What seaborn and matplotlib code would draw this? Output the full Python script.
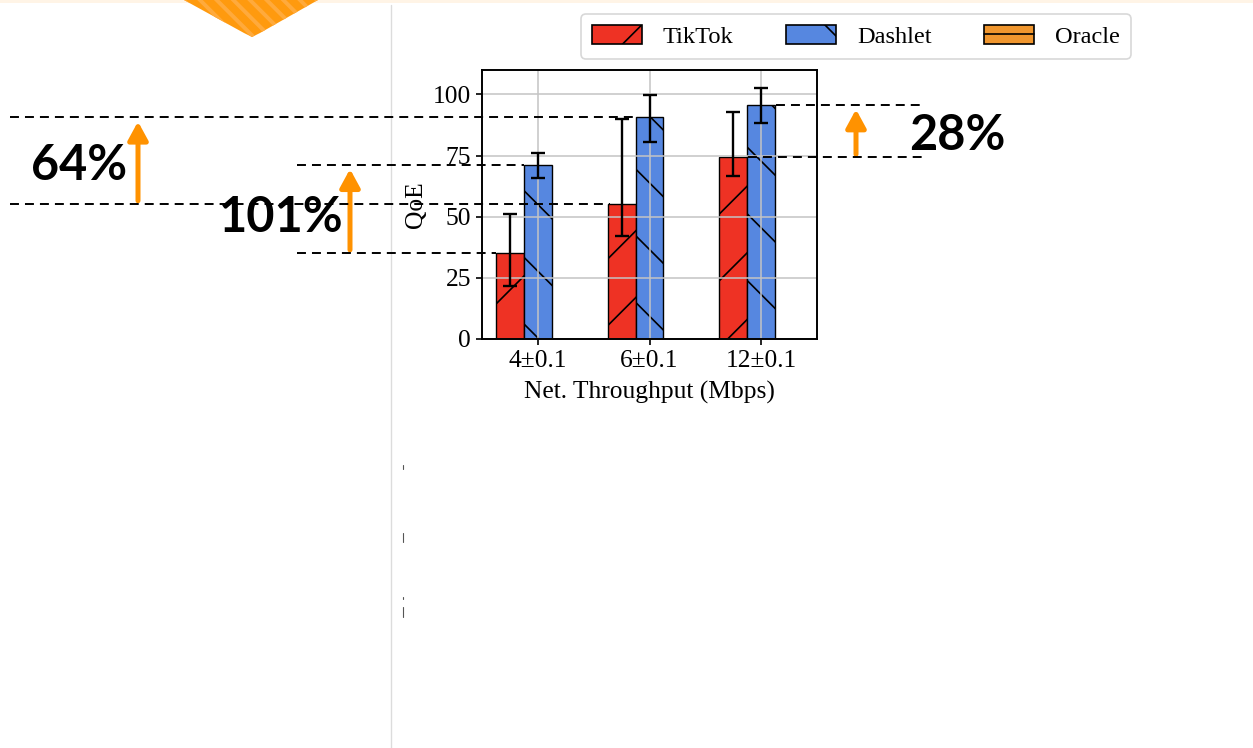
import numpy as np
import pandas as pd
import matplotlib
matplotlib.use("Agg")
import matplotlib.pyplot as plt
import matplotlib.transforms as mtransforms
from matplotlib.colors import to_rgb
from matplotlib.patches import Patch, Polygon, Rectangle
from matplotlib.lines import Line2D
from matplotlib.legend_handler import HandlerTuple
import seaborn as sns

# ---------------- data ----------------
groups = ["4±0.1", "6±0.1", "12±0.1"]
systems = ["TikTok", "Dashlet", "Oracle"]
tiktok_qoe = [35.3, 55.4, 74.4]
tiktok_err_low = [13.6, 13.1, 7.7]
tiktok_err_high = [15.8, 34.5, 18.6]
dashlet_qoe = [71.2, 90.6, 95.6]
dashlet_err_low = [5.4, 10.2, 7.3]
dashlet_err_high = [4.8, 9.3, 7.0]
gain_labels = ["101%", "64%", "28%"]
y_ticks = [0, 25, 50, 75, 100]
x_label = "Net. Throughput (Mbps)"
y_label = "QoE"

colors = {"TikTok": "#EE3224", "Dashlet": "#5687E0", "Oracle": "#F0962E"}
hatches = {"TikTok": "/", "Dashlet": "\\", "Oracle": ""}

# ---------------- figure ----------------
sns.set_style("white")
plt.rcParams["font.family"] = ["Liberation Serif", "DejaVu Serif"]
plt.rcParams["hatch.linewidth"] = 0.6

W, H = 1253, 748
DPI = 200
FS = 9.2
fig = plt.figure(figsize=(W / DPI, H / DPI), dpi=DPI)
fig.patch.set_facecolor("white")

def fx(px):
    return px / W

def fy(py):
    return 1 - py / H

# slide decorations
fig.add_artist(Rectangle((0, fy(3)), 1, 3 / H, transform=fig.transFigure,
                         facecolor="#FFF4E6", edgecolor="none", zorder=0))
chev = Polygon([(fx(184), fy(-2)), (fx(184), fy(0)), (fx(244), fy(33)), (fx(252), fy(37)),
                (fx(260), fy(33)), (fx(318), fy(0)), (fx(318), fy(-2))],
               closed=True, transform=fig.transFigure, facecolor="#FF9A0E",
               edgecolor="#FFAA3C", linewidth=0, hatch="\\\\\\\\", zorder=1)
if hasattr(chev, "set_hatch_linewidth"):
    chev.set_hatch_linewidth(1.4)
fig.add_artist(chev)
fig.add_artist(Line2D([fx(391), fx(391)], [0, fy(5)], transform=fig.transFigure,
                      color="#dcdcdc", lw=0.5, zorder=0))
for y0, y1 in [(465, 469), (533, 542), (597, 599), (607, 617)]:
    fig.add_artist(Line2D([fx(403), fx(403)], [fy(y0), fy(y1)], transform=fig.transFigure,
                          color="#555555", lw=0.4))

# ---------------- axes ----------------
ax = fig.add_axes([fx(482), fy(339), (817 - 482) / W, (339 - 70) / H])

df = pd.DataFrame({
    "group": groups * 2,
    "system": ["TikTok"] * 3 + ["Dashlet"] * 3,
    "qoe": tiktok_qoe + dashlet_qoe,
})

sns.barplot(data=df, x="group", y="qoe", hue="system", order=groups,
            hue_order=systems, palette=colors, width=0.75, errorbar=None,
            saturation=1, edgecolor="black", linewidth=0.5, ax=ax, legend=False)

errs = {"TikTok": (tiktok_err_low, tiktok_err_high),
        "Dashlet": (dashlet_err_low, dashlet_err_high)}
bars = {s: [] for s in systems}
for p in ax.patches:
    if not np.isfinite(p.get_height()) or p.get_height() <= 0:
        continue
    fc = np.array(p.get_facecolor()[:3])
    for s in systems:
        if np.allclose(fc, to_rgb(colors[s]), atol=0.02):
            bars[s].append(p)
            p.set_hatch(hatches[s])
for s, (lo, hi) in errs.items():
    ps = sorted(bars[s], key=lambda p: p.get_x())
    xs = [p.get_x() + p.get_width() / 2 for p in ps]
    ys = [p.get_height() for p in ps]
    ax.errorbar(xs, ys, yerr=[lo, hi], fmt="none", ecolor="black",
                elinewidth=0.85, capsize=2.4, capthick=0.85, zorder=3)

ax.set_xlim(-0.5, 2.5)
ax.set_ylim(0, 110)
ax.set_yticks(y_ticks)
ax.grid(True, color="#c4c4c4", lw=0.55)
ax.set_axisbelow("line")
for s in ax.spines.values():
    s.set_visible(True)
    s.set_color("black")
    s.set_linewidth(0.7)
ax.tick_params(axis="both", labelsize=FS, length=2, width=0.6, pad=2,
               bottom=True, left=True, colors="black")
ax.set_xlabel(x_label, fontsize=FS, labelpad=3, color="black")
ax.set_ylabel(y_label, fontsize=FS, labelpad=2, color="black")

# legend
LFS = 8.8
handles = [Patch(facecolor=colors["TikTok"], edgecolor="black", hatch=hatches["TikTok"], linewidth=0.6),
           Patch(facecolor=colors["Dashlet"], edgecolor="black", hatch=hatches["Dashlet"], linewidth=0.6),
           (Patch(facecolor=colors["Oracle"], edgecolor="black", linewidth=0.6),
            Line2D([], [], color="black", lw=0.6))]
leg = fig.legend(handles=handles, labels=systems, loc="upper left",
                 bbox_to_anchor=(fx(581), fy(14)),
                 handler_map={tuple: HandlerTuple(ndivide=1, pad=0)},
                 ncol=3, fontsize=LFS, frameon=True, fancybox=True, edgecolor="#d8d8d8",
                 framealpha=1, handlelength=2.05, handleheight=0.8, handletextpad=0.85,
                 columnspacing=2.15, borderpad=0.45, borderaxespad=0)
leg.get_frame().set_linewidth(0.6)
for t in leg.get_texts():
    t.set_color("black")

# ---------------- gain annotations ----------------
blend = mtransforms.blended_transform_factory(fig.transFigure, ax.transData)
annots = [
    # (group index, dashlet-line x range, tiktok-line x range, arrow x, text pos)
    (0, (297, 524), (297, 496), 350, (281, 218)),
    (1, (10, 635), (10, 610), 138, (79, 165)),
    (2, (776, 925), (748, 925), 856, (957, 136)),
]
for i, (dx0, dx1), (tx0, tx1), axp, (tpx, tpy) in annots:
    ax.plot([fx(dx0), fx(dx1)], [dashlet_qoe[i]] * 2, transform=blend, color="black",
            lw=0.7, ls=(0, (4.6, 3.1)), clip_on=False, zorder=4)
    ax.plot([fx(tx0), fx(tx1)], [tiktok_qoe[i]] * 2, transform=blend, color="black",
            lw=0.7, ls=(0, (4.6, 3.1)), clip_on=False, zorder=4)
    ax.annotate("", xy=(fx(axp), dashlet_qoe[i]), xycoords=blend,
                xytext=(fx(axp), tiktok_qoe[i]), textcoords=blend,
                annotation_clip=False,
                arrowprops=dict(arrowstyle="-|>,head_length=0.55,head_width=0.3",
                                color="#FF9200", lw=1.8, mutation_scale=10,
                                shrinkA=1, shrinkB=1.5))
    fig.text(fx(tpx), fy(tpy), gain_labels[i], ha="center", va="center",
             fontsize=17.5, fontweight="bold", family=["Lato", "DejaVu Sans"],
             color="black")

fig.savefig("out.png", dpi=DPI, facecolor="white")
